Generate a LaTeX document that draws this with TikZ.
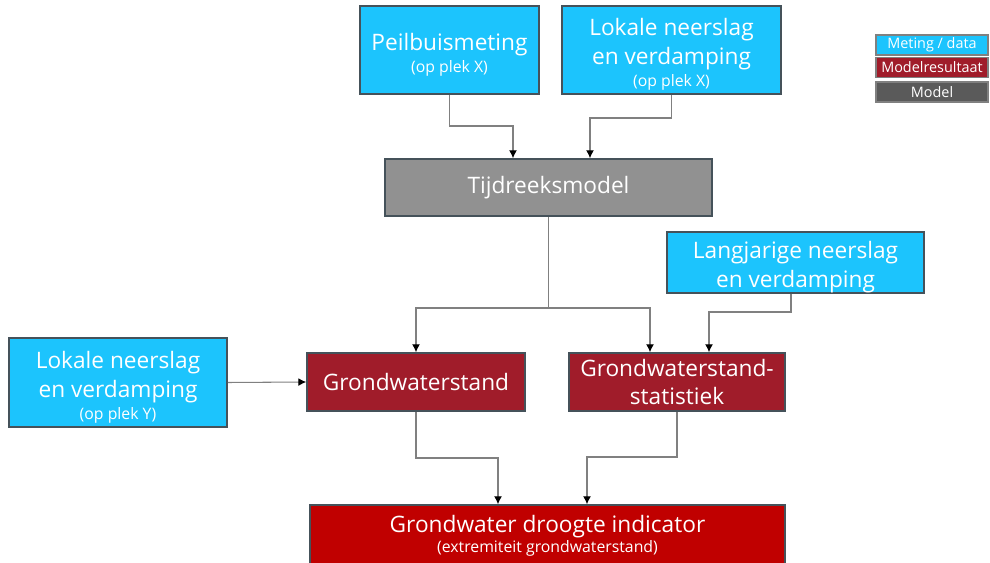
\documentclass[tikz,border=0pt]{standalone}
\usepackage{fontspec}
\setmainfont{Open Sans}
\usetikzlibrary{arrows.meta}
\usetikzlibrary{positioning}
\definecolor{meting}{HTML}{1CC4FD}
\definecolor{resultaat}{HTML}{A01C2A}
\definecolor{model}{HTML}{919191}
\definecolor{modeldark}{HTML}{5A5A5A}
\definecolor{indicator}{HTML}{C00000}
\definecolor{rand}{HTML}{45525A}
\definecolor{lijn}{HTML}{808080}
\tikzset{box/.style = {draw = rand, line width = 0.9pt, text = white, align = center, inner sep = 0,
    font = \fontsize{12.9}{16.5}\selectfont}}
\tikzset{databox/.style = {box, fill = meting}}
\tikzset{resbox/.style = {box, fill = resultaat}}
\tikzset{modelbox/.style = {box, fill = model}}
\tikzset{legbox/.style = {draw = lijn, line width = 0.7pt, text = white, inner sep = 0,
    minimum width = 112*0.02cm, minimum height = 20*0.02cm, font = \fontsize{8.2}{9}\selectfont}}
\tikzset{conn/.style = {draw = lijn, line width = 0.6pt, -{Latex[color = black, length = 4.5pt, width = 4.5pt]}}}
\newcommand{\plek}[1]{{\fontsize{9}{11}\selectfont #1}}
\newcommand{\hoog}{\rule{0pt}{15pt}}

\begin{document}
\begin{tikzpicture}[x = 0.02cm, y = -0.02cm]
    \useasboundingbox (0, 0) rectangle (990, 563);
    \clip (0, 0) rectangle (990, 563);

    \node [databox, minimum width = 179*0.02cm, minimum height = 88*0.02cm] (peil) at (449.5, 50)
        {\hoog Peilbuismeting\\[-4pt]\plek{(op plek X)}};
    \node [databox, minimum width = 219*0.02cm, minimum height = 88*0.02cm] (lokx) at (671.5, 50)
        {\hoog Lokale neerslag\\en verdamping\\[-4pt]\plek{(op plek X)}};
    \node [modelbox, minimum width = 327*0.02cm, minimum height = 57*0.02cm] (tijd) at (548.5, 187.5)
        {Tijdreeksmodel};
    \node [databox, minimum width = 257*0.02cm, minimum height = 59*0.02cm] (lang) at (795.5, 262.5)
        {\hoog Langjarige neerslag\\en verdamping};
    \node [databox, minimum width = 218*0.02cm, minimum height = 89*0.02cm] (loky) at (118, 382.5)
        {\hoog Lokale neerslag\\en verdamping\\[-4pt]\plek{(op plek Y)}};
    \node [resbox, minimum width = 218*0.02cm, minimum height = 58*0.02cm] (gws) at (416, 382)
        {Grondwaterstand};
    \node [resbox, minimum width = 216*0.02cm, minimum height = 58*0.02cm] (stat) at (677, 382)
        {Grondwaterstand-\\statistiek};
    \node [box, fill = indicator, minimum width = 475*0.02cm, minimum height = 62*0.02cm] (ind) at (547.5, 536)
        {Grondwater droogte indicator\\[-5pt]\plek{(extremiteit grondwaterstand)}};

    \node [legbox, fill = meting] (legdata) at (932, 45) {Meting / data};
    \node [legbox, fill = resultaat] (legres) at (932, 67.5) {Modelresultaat};
    \node [legbox, fill = modeldark] (legmodel) at (932, 92) {Model};

    \coordinate (k1) at (513, 126);
    \coordinate (k2) at (590, 118);
    \coordinate (k3) at (548.5, 308);
    \coordinate (k4) at (650, 308);
    \coordinate (k5) at (791, 312);
    \coordinate (k6) at (709, 312);
    \coordinate (k7) at (498, 458);
    \coordinate (k8) at (587, 457);

    \draw [conn] (peil.south) |- (k1) -- (k1 |- tijd.north);
    \draw [conn] (lokx.south) |- (k2) -- (k2 |- tijd.north);
    \draw [conn] (tijd.south) -- (k3) -| (gws.north);
    \draw [conn] (k3) -- (k4) -- (k4 |- stat.north);
    \draw [conn] (k5 |- lang.south) -- (k5) -- (k6) -- (k6 |- stat.north);
    \draw [conn] (loky.east) -- (gws.west);
    \draw [conn] (gws.south) |- (k7) -- (k7 |- ind.north);
    \draw [conn] (stat.south) |- (k8) -- (k8 |- ind.north);
\end{tikzpicture}
\end{document}
